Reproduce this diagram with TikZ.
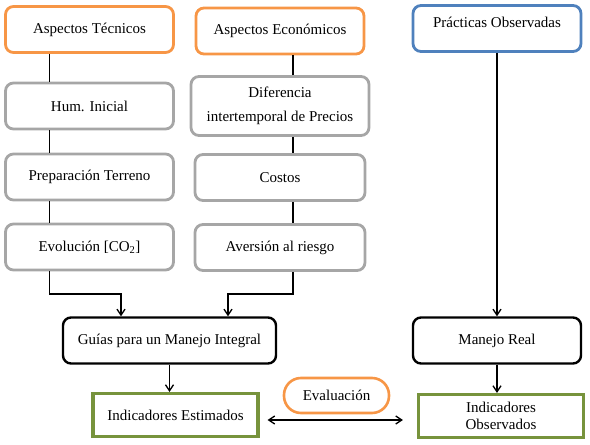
\documentclass[tikz,border=0pt]{standalone}
\usepackage{fontspec}
\setmainfont{Liberation Serif}
\usetikzlibrary{arrows.meta}
\usetikzlibrary{positioning}
\definecolor{naranja}{RGB}{247,150,70}
\definecolor{gris}{RGB}{166,166,166}
\definecolor{azul}{RGB}{79,129,189}
\definecolor{verde}{RGB}{119,147,60}

\begin{document}
\begin{tikzpicture}[x=1pt,y=-1pt,>={Straight Barb[length=6pt,width=8pt]},node distance=71pt,
			base/.style={rectangle,rounded corners=8pt,fill=white,align=center,
				font=\fontsize{15}{17}\selectfont,minimum width=168pt,minimum height=46pt},
			tema/.style={base,draw=naranja,line width=2.8pt},
			factor/.style={base,draw=gris,line width=2.8pt},
			practica/.style={base,draw=azul,line width=2.8pt,text depth=12pt},
			guia/.style={base,draw=black,line width=2.4pt},
			indicador/.style={base,sharp corners,draw=verde,line width=3.2pt,
				minimum width=165pt,minimum height=43pt},
			evalbox/.style={base,draw=naranja,line width=2.6pt,rounded corners=17pt,
				minimum width=105pt,minimum height=35pt},
			linea/.style={line width=1.3pt},
			flecha/.style={->,line width=1.3pt}]
			
			\useasboundingbox (0,0) rectangle (590,445);
			
			% aspectos tecnicos
			\node[tema] (tec) at (89.5,29.5) {Aspectos Técnicos};
			\node[factor] (hum) [below of=tec,node distance=76.5pt] {Hum. Inicial};
			\node[factor] (prep) [below of=hum] {Preparación Terreno};
			\node[factor] (evo) [below of=prep,node distance=70pt] {Evolución [CO\textsubscript{2}]};
			
			% aspectos economicos
			\node[tema] (eco) at (280,31) {Aspectos Económicos};
			\node[factor,minimum width=178pt,minimum height=59pt] (dif) [below of=eco,node distance=75pt]
				{Diferencia\\[7pt]intertemporal de Precios};
			\node[factor,minimum width=170pt] (cos) [below of=dif,node distance=71.5pt] {Costos};
			\node[factor,minimum width=170pt] (ave) [below of=cos,node distance=70pt] {Aversión al riesgo};
			
			% practicas
			\node[practica] (pra) at (497,28.5) {Prácticas Observadas};
			
			\node[guia,minimum width=213pt] (guias) at (169.5,340.5) {Guías para un Manejo Integral};
			\node[guia] (manejo) [below of=pra,node distance=312pt] {Manejo Real};
			
			\node[indicador] (inde) at (175.5,415) {Indicadores Estimados};
			\node[indicador] (indo) at (501,416) {Indicadores\\Observados};
			\node[evalbox] (eval) at (336.5,395.5) {Evaluación};
			
			\coordinate (colA) at (49.5,0);
			\coordinate (colB) at (293,0);
			\coordinate (jA) at (121,294);
			\coordinate (jB) at (228,294);
			
			\draw[linea] (tec.south -| colA) -- (hum.north -| colA);
			\draw[linea] (hum.south -| colA) -- (prep.north -| colA);
			\draw[linea] (prep.south -| colA) -- (evo.north -| colA);
			\draw[linea] (eco.south -| colB) -- (dif.north -| colB);
			\draw[linea] (dif.south -| colB) -- (cos.north -| colB);
			\draw[linea] (cos.south -| colB) -- (ave.north -| colB);
			
			\draw[flecha] (evo.south -| colA) |- (jA) -- (guias.north -| jA);
			\draw[flecha] (ave.south -| colB) |- (jB) -- (guias.north -| jB);
			\draw[flecha] (pra.south) -- (manejo.north);
			\draw[flecha] (guias.south) -- (guias.south |- inde.north);
			\draw[flecha] (manejo.south) -- (manejo.south |- indo.north);
			\draw[linea,<->] ([xshift=8pt,yshift=-5pt]inde.east) -- ([xshift=-14pt,yshift=-4pt]indo.west);
		\end{tikzpicture}
\end{document}
